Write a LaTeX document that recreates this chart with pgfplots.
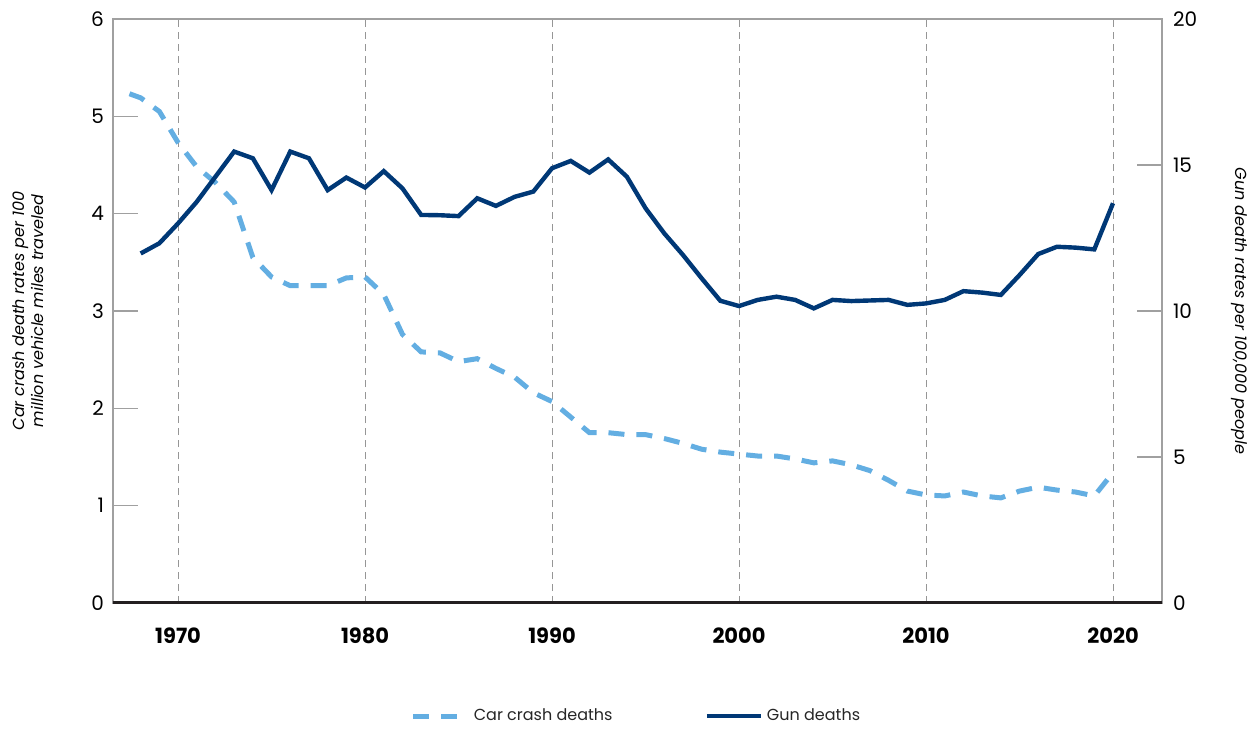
\documentclass[border=0pt]{standalone}
\usepackage{fontspec}
\setmainfont{Poppins}
\usepackage{pgfplots}
\pgfplotsset{compat=1.18}
\definecolor{carc}{RGB}{99,174,226}
\definecolor{gunc}{RGB}{0,56,118}
\definecolor{gridc}{RGB}{150,150,150}
\definecolor{axc}{RGB}{160,160,160}
\definecolor{basec}{RGB}{35,31,32}
\begin{document}
\begin{tikzpicture}
\pgfplotsset{
  common/.style={
    at={(0,0)}, anchor=south west,
    width=524.5pt, height=292pt, scale only axis,
    xmin=1966.52, xmax=2022.62,
    tick align=inside, major tick length=12.5pt,
    /pgf/number format/assume math mode=true,
    axis line style={axc, line width=0.6pt},
    ytick style={axc, line width=0.6pt},
  },
}
\begin{axis}[common,
  ymin=0, ymax=6,
  xtick={1970,1980,...,2020},
  xticklabel style={font=\fontsize{10.5}{12}\selectfont\bfseries, yshift=-9pt, /pgf/number format/1000 sep={}},
  xtick style={draw=none},
  xmajorgrids,
  grid style={gridc, line width=0.5pt, dash pattern=on 3.5pt off 2.5pt},
  ytick={0,1,...,6}, ytick pos=left,
  yticklabel style={font=\fontsize{10}{12}\selectfont, xshift=-1pt},
  ylabel={Car crash death rates per 100\\million vehicle miles traveled},
  ylabel style={align=center, font=\fontsize{8}{9.6}\selectfont\itshape, at={(axis description cs:-0.081,0.5)}, anchor=center},
]
\addplot[carc, line width=2.5pt, dash pattern=on 8pt off 6pt, dash phase=10pt] coordinates {
(1967,5.26) (1968,5.19) (1969,5.05) (1970,4.73) (1971,4.48) (1972,4.32) (1973,4.12) (1974,3.55)
(1975,3.35) (1976,3.26) (1977,3.26) (1978,3.26) (1979,3.34) (1980,3.35) (1981,3.17) (1982,2.76)
(1983,2.58) (1984,2.57) (1985,2.48) (1986,2.51) (1987,2.41) (1988,2.32) (1989,2.16) (1990,2.07)
(1991,1.91) (1992,1.75) (1993,1.75) (1994,1.73) (1995,1.73) (1996,1.69) (1997,1.64) (1998,1.58)
(1999,1.55) (2000,1.53) (2001,1.51) (2002,1.51) (2003,1.48) (2004,1.44) (2005,1.46) (2006,1.42)
(2007,1.36) (2008,1.26) (2009,1.15) (2010,1.11) (2011,1.10) (2012,1.14) (2013,1.10) (2014,1.08)
(2015,1.15) (2016,1.19) (2017,1.16) (2018,1.14) (2019,1.10) (2020,1.34)
};
\end{axis}
\begin{axis}[common,
  ymin=0, ymax=20,
  axis x line=none, axis y line*=right,
  ytick={0,5,...,20},
  yticklabel style={font=\fontsize{10}{12}\selectfont, xshift=2pt},
  ylabel={Gun death rates per 100,000 people},
  ylabel style={font=\fontsize{8}{9.6}\selectfont\itshape, at={(axis description cs:1.074,0.5)}, anchor=center, rotate=180},
  legend columns=2,
  legend style={at={(0.5,-0.1935)}, anchor=center, draw=none, fill=none,
    font=\fontsize{8}{9.6}\selectfont, text=black!85,
    /tikz/every even column/.append style={column sep=44pt}},
  legend image code/.code={\draw[#1] (0pt,0pt) -- (27pt,0pt);},
]
\addlegendimage{carc, line width=2.5pt, dash pattern=on 8pt off 6pt}
\addlegendentry{Car crash deaths}
\addplot[gunc, line width=2.2pt] coordinates {
(1968,11.97) (1969,12.32) (1970,13.00) (1971,13.74) (1972,14.60) (1973,15.46) (1974,15.23) (1975,14.14)
(1976,15.46) (1977,15.23) (1978,14.14) (1979,14.57) (1980,14.23) (1981,14.79) (1982,14.20) (1983,13.29)
(1984,13.28) (1985,13.25) (1986,13.86) (1987,13.60) (1988,13.91) (1989,14.09) (1990,14.89) (1991,15.14)
(1992,14.74) (1993,15.19) (1994,14.60) (1995,13.52) (1996,12.66) (1997,11.92) (1998,11.12) (1999,10.35)
(2000,10.17) (2001,10.38) (2002,10.49) (2003,10.38) (2004,10.09) (2005,10.38) (2006,10.34) (2007,10.36)
(2008,10.38) (2009,10.21) (2010,10.26) (2011,10.38) (2012,10.68) (2013,10.63) (2014,10.55) (2015,11.23)
(2016,11.95) (2017,12.20) (2018,12.17) (2019,12.11) (2020,13.69)
};
\addlegendentry{Gun deaths}
\draw[line width=2pt, basec] (rel axis cs:0,0) -- (rel axis cs:1,0);
\end{axis}
\pgfresetboundingbox
\path[use as bounding box] (-56.5pt,-63pt) rectangle (570.5pt,301.5pt);
\end{tikzpicture}
\end{document}
